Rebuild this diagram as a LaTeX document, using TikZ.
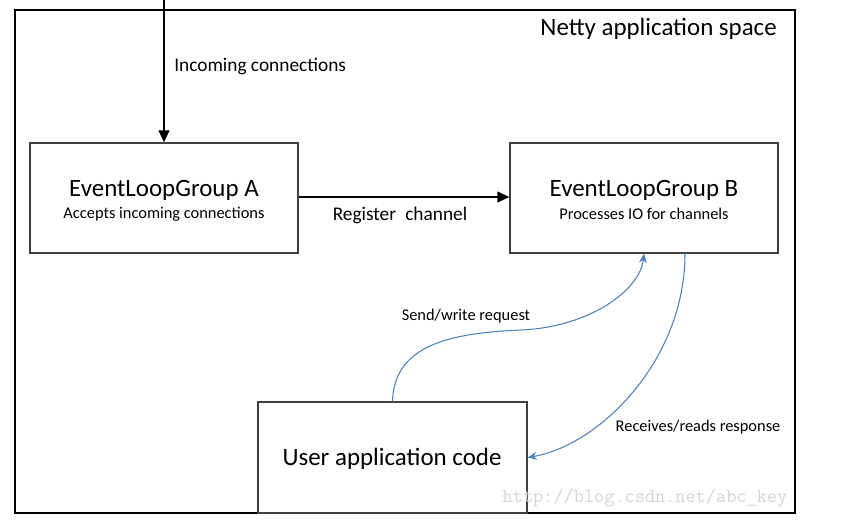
\documentclass[tikz,border=0pt]{standalone}
\usepackage{fontspec}
\setmainfont{Carlito}
\usetikzlibrary{arrows.meta,calc}
\definecolor{offblue}{RGB}{79,129,189}
\definecolor{boxgray}{RGB}{64,64,64}
\definecolor{wmgray}{RGB}{212,212,212}
\tikzset{
  box/.style={draw=boxgray, line width=0.9pt, minimum width=201pt, minimum height=82.5pt, inner sep=0pt},
  big/.style={inner sep=0pt, font=\fontsize{18.7}{20}\selectfont},
  mid/.style={inner sep=0pt, font=\fontsize{14.5}{16}\selectfont},
  small/.style={inner sep=0pt, font=\fontsize{12.3}{14}\selectfont},
  blkarrow/.style={line width=1.5pt, -{Triangle[length=9pt,width=8pt]}},
  bluearrow/.style={draw=offblue, line width=0.8pt, -{Stealth[length=7pt,width=6pt]}},
}
\begin{document}
\begin{tikzpicture}[x=0.75pt,y=-0.75pt]
\useasboundingbox (0,0) rectangle (859,520);
% outer frame
\draw[line width=0.8pt] (15,10) rectangle (795,513);
\node[big, anchor=east] (title) at (777,29) {Netty application space};
% boxes
\node[box] (A) at (164,198) {};
\node[big] (At) at (164,190) {EventLoopGroup A};
\node[small] (As) at (164,214) {Accepts incoming connections};
\node[box] (B) at (644,198) {};
\node[big] (Bt) at (644,190) {EventLoopGroup B};
\node[small] (Bs) at (644,214) {Processes IO for channels};
\node[box, minimum width=201.75pt, minimum height=83.25pt, fill=white] (U) at (392.5,457.5) {};
\node[big] (Ut) at (392,459) {User application code};
% incoming
\coordinate (src) at (164,0);
\draw[blkarrow] (src) -- (A.north);
\node[mid, anchor=west] (inl) at (174,66) {Incoming connections};
% register
\draw[blkarrow] (A.east |- 0,197) -- (B.west |- 0,197);
\node[mid] (regl) at (400,215) {Register\hspace{0.25em} channel};
% blue curves
\coordinate (Bin) at ($(B.south)+(0,0)$);
\coordinate (Bout) at ($(B.south)+(41,0)$);
\draw[bluearrow] (U.north) .. controls (394,345) and (450,333) .. (521,330)
   .. controls (590,327) and (640,290) .. (Bin);
\draw[bluearrow] (Bout) .. controls (685,360) and (600,445) .. (U.east);
\node[small] (sendl) at (466,316) {Send/write request};
\node[small] (recvl) at (698,427) {Receives/reads response};
% watermark
\node[inner sep=0pt, text=wmgray, font=\ttfamily\fontsize{14.8}{16}\selectfont] (wm) at (645,498) {http://blog.csdn.net/abc\_key};
\end{tikzpicture}
\end{document}
